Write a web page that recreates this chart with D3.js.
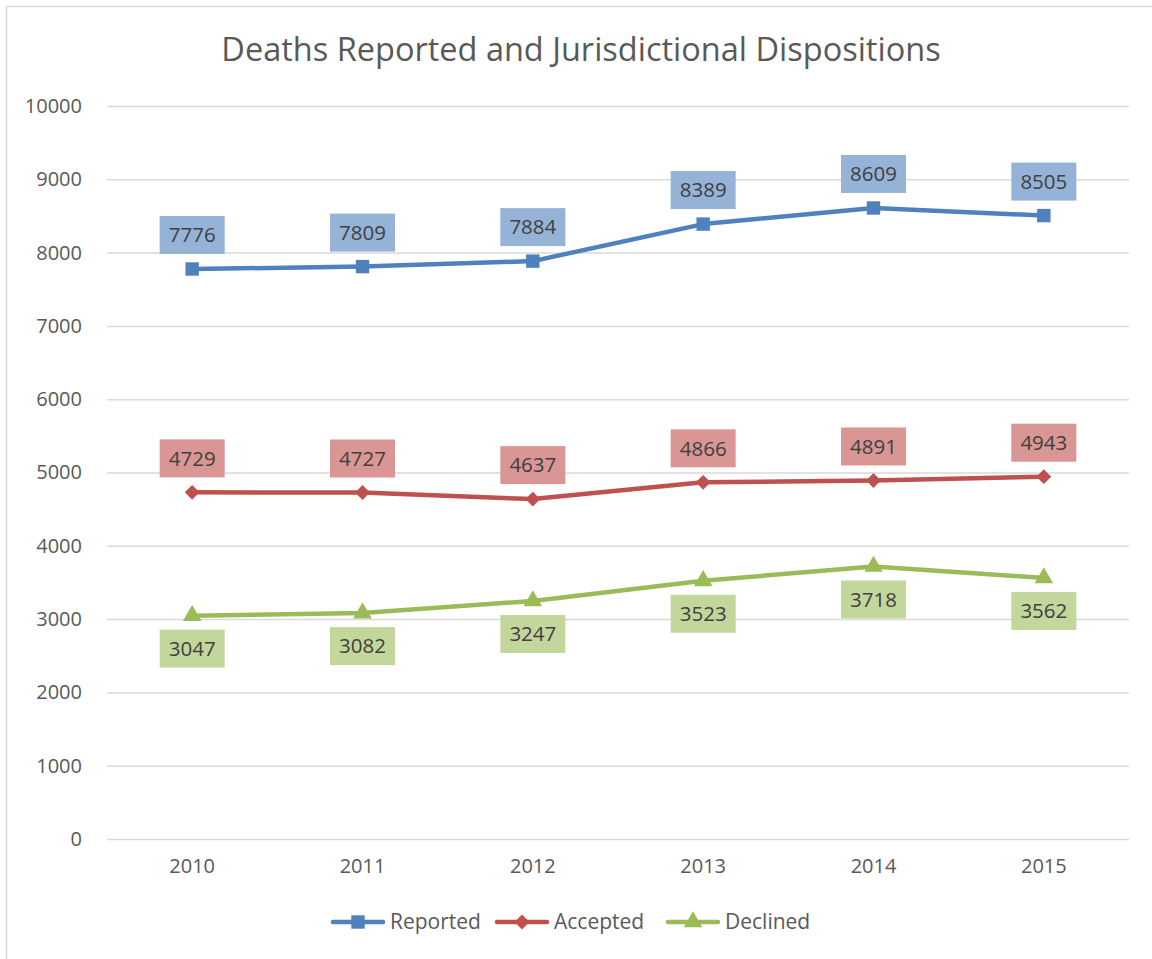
<!DOCTYPE html>
<html>
<head>
<script src="https://d3js.org/d3.v7.min.js"></script>
<style>
  body { margin: 0; background: #fff; }
  text { font-family: "Open Sans", "Noto Sans", sans-serif; }
</style>
</head>
<body>
<svg id="chart" width="1152" height="959"></svg>
<script>
  var years = ["2010", "2011", "2012", "2013", "2014", "2015"];
  var reported = [7776, 7809, 7884, 8389, 8609, 8505];
  var accepted = [4729, 4727, 4637, 4866, 4891, 4943];
  var declined = [3047, 3082, 3247, 3523, 3718, 3562];
  var yTicks = [0, 1000, 2000, 3000, 4000, 5000, 6000, 7000, 8000, 9000, 10000];

  var series = [
    {name: "Reported", values: reported, color: "#4f81bd", fill: "#95b3d7", marker: "square", pos: "above"},
    {name: "Accepted", values: accepted, color: "#c0504d", fill: "#d99694", marker: "diamond", pos: "above"},
    {name: "Declined", values: declined, color: "#9bbb59", fill: "#c3d69b", marker: "triangle", pos: "below"}
  ];

  var svg = d3.select("#chart");
  var plotL = 107, plotR = 1129, plotT = 106, plotB = 839;

  // outer frame
  svg.append("rect").attr("x", 6.5).attr("y", 6.5).attr("width", 1160).attr("height", 960)
    .attr("fill", "none").attr("stroke", "#d9d9d9").attr("stroke-width", 1.5);

  svg.append("text").attr("x", 581).attr("y", 61).attr("text-anchor", "middle")
    .attr("font-size", 32.5).attr("fill", "#595959").text("Deaths Reported and Jurisdictional Dispositions");

  var x = d3.scaleBand().domain(years).range([plotL, plotR]);
  var y = d3.scaleLinear().domain([0, 10000]).range([plotB, plotT]);

  var yAxis = svg.append("g").attr("transform", "translate(" + plotL + ",0)")
    .call(d3.axisLeft(y).tickValues(yTicks).tickFormat(d3.format("d"))
      .tickSize(-(plotR - plotL)).tickPadding(25));
  yAxis.select(".domain").remove();
  yAxis.selectAll("line").attr("stroke", "#d9d9d9").attr("stroke-width", 1.5);
  yAxis.selectAll("text").attr("font-size", 20).attr("fill", "#595959")
    .attr("font-family", "Open Sans, Noto Sans, sans-serif");

  var xAxis = svg.append("g").attr("transform", "translate(0," + plotB + ")")
    .call(d3.axisBottom(x).tickSize(0).tickPadding(20));
  xAxis.select(".domain").remove();
  xAxis.selectAll("text").attr("font-size", 20).attr("fill", "#595959")
    .attr("font-family", "Open Sans, Noto Sans, sans-serif");

  var cx = function(d, i) { return x(years[i]) + x.bandwidth() / 2; };

  var symbolFor = {
    square: d3.symbol().type(d3.symbolSquare).size(180),
    diamond: d3.symbol().type(d3.symbolSquare).size(110),
    triangle: d3.symbol().type(d3.symbolTriangle).size(150)
  };
  var rot = function(s) { return s.marker === "diamond" ? " rotate(45)" : ""; };

  var line = d3.line().x(cx).y(function(d) { return y(d); });

  series.forEach(function(s) {
    var g = svg.append("g");
    g.append("path").datum(s.values).attr("d", line)
      .attr("fill", "none").attr("stroke", s.color).attr("stroke-width", 4.5)
      .attr("stroke-linejoin", "round").attr("stroke-linecap", "round");
    g.selectAll(".m").data(s.values).enter().append("path")
      .attr("d", symbolFor[s.marker])
      .attr("transform", function(d, i) { return "translate(" + cx(d, i) + "," + y(d) + ")" + rot(s); })
      .attr("fill", s.color);

    var lab = g.selectAll(".lab").data(s.values).enter().append("g")
      .attr("transform", function(d, i) {
        var off = s.pos === "above" ? -34 : 33;
        return "translate(" + cx(d, i) + "," + (y(d) + off) + ")";
      });
    lab.append("rect").attr("x", -32.5).attr("y", -19).attr("width", 65).attr("height", 38)
      .attr("fill", s.fill);
    lab.append("text").attr("text-anchor", "middle").attr("dy", "0.36em")
      .attr("font-size", 20.5).attr("fill", "#404040").text(function(d) { return d; });
  });

  // legend
  var legendX = [333, 497, 668];
  series.forEach(function(s, i) {
    var lg = svg.append("g").attr("transform", "translate(" + legendX[i] + ",922)");
    lg.append("line").attr("x1", 0).attr("x2", 50).attr("stroke", s.color)
      .attr("stroke-width", 4.5).attr("stroke-linecap", "round");
    lg.append("path").attr("d", symbolFor[s.marker]).attr("transform", "translate(25,0)" + rot(s))
      .attr("fill", s.color);
    lg.append("text").attr("x", 57).attr("dy", "0.35em").attr("font-size", 21)
      .attr("fill", "#595959").text(s.name);
  });
</script>
</body>
</html>
